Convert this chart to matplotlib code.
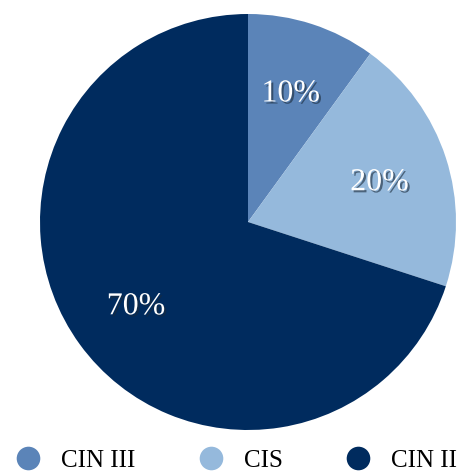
import matplotlib
matplotlib.use("Agg")
import matplotlib.pyplot as plt
import matplotlib.patheffects as pe
from matplotlib.lines import Line2D

categories = ["CIN III", "CIS", "CIN II"]
values = [10, 20, 70]
colors = ["#5b84b8", "#95b9dc", "#002b5e"]

plt.rcParams['font.family'] = ['Liberation Serif', 'DejaVu Serif']

fig = plt.figure(figsize=(4.68, 4.72), dpi=100)
ax = fig.add_axes([40/468, 42/472, 416/468, 416/472])
wedges, texts = ax.pie(values, colors=colors, startangle=90, counterclock=False,
                       labels=[f"{v}%" for v in values], labeldistance=0.665,
                       radius=1.0, wedgeprops=dict(linewidth=0))
for t in texts:
    t.set_color("white")
    t.set_fontsize(23)
    t.set_ha("center")
    t.set_va("center_baseline")
    t.set_path_effects([pe.SimplePatchShadow(offset=(1.5, -1.5), shadow_rgbFace="#1a2a3a", alpha=0.6),
                        pe.Normal()])
ax.set_xlim(-1, 1)
ax.set_ylim(-1, 1)
ax.set_aspect("equal")
ax.axis("off")

handles = [Line2D([0], [0], marker="o", linestyle="none", markersize=17,
                  markerfacecolor=c, markeredgewidth=0) for c in colors]
fig.legend(handles, categories, loc="center", bbox_to_anchor=(0.505, 11.5/472),
           ncol=3, frameon=False, fontsize=18, handlelength=1.0,
           handletextpad=0.82, columnspacing=2.5, borderpad=0, borderaxespad=0)

fig.savefig("out.png", dpi=100)
